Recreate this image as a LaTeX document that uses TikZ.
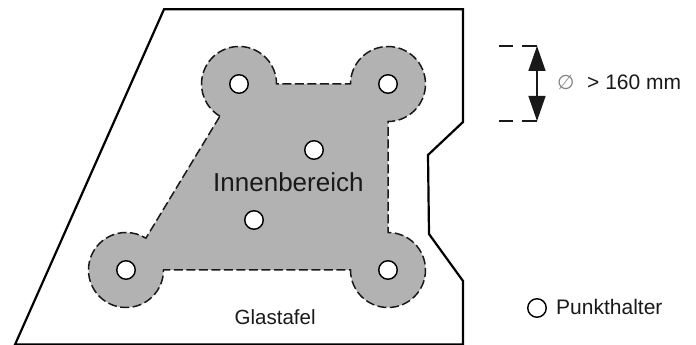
\documentclass[tikz,border=0pt]{standalone}
\usepackage{fontspec}
\setmainfont{Liberation Sans}
\newfontfamily\symfont{DejaVu Sans}
\usetikzlibrary{arrows.meta}
\definecolor{innen}{RGB}{178,178,178}
\definecolor{ink}{RGB}{25,25,25}
\tikzset{
  x=1pt,y=1pt,
  glass/.style={line width=2.2pt,draw=black,line join=miter},
  zone/.style={line width=1.5pt,draw=ink,fill=innen,dash pattern=on 9pt off 3.5pt},
  holder/.style={circle,draw=black,fill=white,line width=1.4pt,minimum size=18.5pt,inner sep=0pt},
  label/.style={inner sep=0pt,text=ink,anchor=base west},
  dimdash/.style={line width=1.4pt,draw=ink},
  dimarrow/.style={line width=1.4pt,draw=ink,{Triangle[length=25pt,width=17pt]}-{Triangle[length=25pt,width=17pt]}}
}
\begin{document}
\begin{tikzpicture}
\useasboundingbox (0,0) rectangle (696,345);
\draw[glass] (164,335.7) -- (463,335.7) -- (463,223) -- (428,190) -- (429,111) -- (463,64) -- (463,0.4) -- (15,0.4) -- cycle;
\draw[zone] (219.9,228.8) arc[start angle=239.3,end angle=0,radius=37.5]
  -- (350.5,261) arc[start angle=180,end angle=-90,radius=37.5]
  -- (388,112.5) arc[start angle=90,end angle=-180,radius=37.5]
  -- (163.5,75) arc[start angle=0,end angle=-302,radius=37.5]
  -- cycle;
\node[holder] (h1) at (239,261) {};
\node[holder] (h2) at (388,261) {};
\node[holder] (h3) at (126,75) {};
\node[holder] (h4) at (388,75) {};
\node[holder] (h5) at (314,195) {};
\node[holder] (h6) at (254,125) {};
\node[label,font=\fontsize{26}{28}\selectfont] (inner) at (213,153) {Innenbereich};
\node[label,font=\fontsize{20.5}{22}\selectfont] (glas) at (234.5,20) {Glastafel};
\node[holder] (key) at (537,37) {};
\node[label,font=\fontsize{21}{23}\selectfont] (punkt) at (556,30.7) {Punkthalter};
\coordinate (dtop) at (537,299);
\coordinate (dbot) at (537,224);
\draw[dimarrow] (dtop) -- (dbot);
\draw[dimdash] (499,299) -- (513,299) (522,299) -- (dtop);
\draw[dimdash] (499,224) -- (513,224) (522,224) -- (dbot);
\node[label,font=\symfont\fontsize{20}{22}\selectfont,text=gray] (dia) at (557,255) {∅};
\node[label,font=\fontsize{21}{23}\selectfont] (dim) at (587,255) {> 160 mm};
\end{tikzpicture}
\end{document}
